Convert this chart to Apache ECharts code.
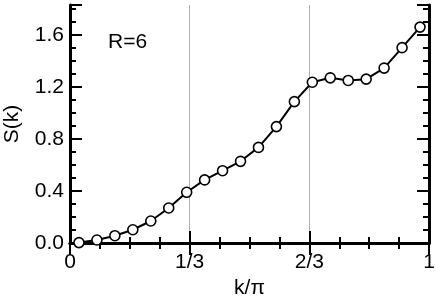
<!DOCTYPE html>
<html>
<head>
<meta charset="utf-8">
<script src="https://cdn.jsdelivr.net/npm/echarts@6/dist/echarts.min.js"></script>
<style>html,body{margin:0;padding:0;background:#fff}#c{width:436px;height:308px}</style>
</head>
<body>
<div id="c"></div>
<script>
const kValues = [0.025,0.075,0.125,0.175,0.225,0.275,0.325,0.375,0.425,0.475,0.525,0.575,0.625,0.675,0.725,0.775,0.825,0.875,0.925,0.975];
const sValues = [0.003,0.023,0.056,0.102,0.169,0.269,0.390,0.485,0.556,0.628,0.735,0.895,1.087,1.236,1.270,1.250,1.260,1.345,1.502,1.660];
const xTickLabels = ['0','1/3','2/3','1'];
const yTickLabels = ['0.0','0.4','0.8','1.2','1.6'];
const annotation = 'R=6';

const FONT = 'Liberation Sans';
const FS = 21;
const chart = echarts.init(document.getElementById('c'), null, {renderer:'canvas'});
const yMax = 1.83;
const axisLine = {show:true, lineStyle:{color:'#000', width:3}};
const xAxisCommon = (pos, show) => ({
  type:'value', position:pos, min:0, max:1, interval:1/3,
  axisLine: axisLine,
  axisTick:{show:true, inside:true, length:12, lineStyle:{color:'#000', width:2}},
  minorTick:{show:true, splitNumber:4, length:6, lineStyle:{color:'#000', width:2}},
  splitLine:{show: pos==='bottom', lineStyle:{color:'#b0b0b0', width:1}},
  minorSplitLine:{show:false},
  axisLabel:{show:show, color:'#000', fontFamily:FONT, fontSize:FS, margin:9,
    formatter: v => xTickLabels[Math.round(v*3)] }
});
const yMajor = (pos, show) => ({
  type:'value', position:pos, min:0, max:yMax, interval:0.4, offset:0,
  axisLine: axisLine,
  axisTick:{show:true, inside:true, length:12, lineStyle:{color:'#000', width:2}},
  splitLine:{show:false},
  axisLabel:{show:show, color:'#000', fontFamily:FONT, fontSize:FS, margin:6,
    formatter: v => { const i = Math.round(v/0.4); return Math.abs(v - i*0.4) < 1e-6 ? yTickLabels[i] : ''; } }
});
const yMinor = (pos) => ({
  type:'value', position:pos, min:0, max:yMax, interval:0.1, offset:0,
  axisLine:{show:false},
  axisTick:{show:true, inside:true, length:6, lineStyle:{color:'#000', width:2}},
  splitLine:{show:false},
  axisLabel:{show:false}
});
const xb = xAxisCommon('bottom', true);
xb.name = 'k/\u03c0'; xb.nameLocation='middle'; xb.nameGap = 30;
xb.nameTextStyle = {color:'#000', fontFamily:FONT, fontSize:FS};
const yl = yMajor('left', true);
yl.name = 'S(k)'; yl.nameLocation='middle'; yl.nameGap = 47; yl.nameRotate = 90;
yl.nameTextStyle = {color:'#000', fontFamily:FONT, fontSize:FS};

chart.setOption({
  animation:false,
  backgroundColor:'#fff',
  grid:{left:70, right:7, top:5, bottom:65, containLabel:false, outerBoundsMode:'none'},
  xAxis:[xb, xAxisCommon('top', false)],
  yAxis:[yl, yMinor('left'), yMajor('right', false), yMinor('right')],
  graphic:[{type:'text', left:108, top:32, style:{text:annotation, font:FS+'px "Liberation Sans"', fill:'#000'}}],
  series:[{
    type:'line', xAxisIndex:0, yAxisIndex:0,
    data: kValues.map((k,i)=>[k, sValues[i]]),
    lineStyle:{color:'#000', width:2},
    symbol:'circle', symbolSize:10,
    itemStyle:{color:'#fff', borderColor:'#000', borderWidth:1.6},
    z:5
  }]
});
</script>
</body>
</html>
